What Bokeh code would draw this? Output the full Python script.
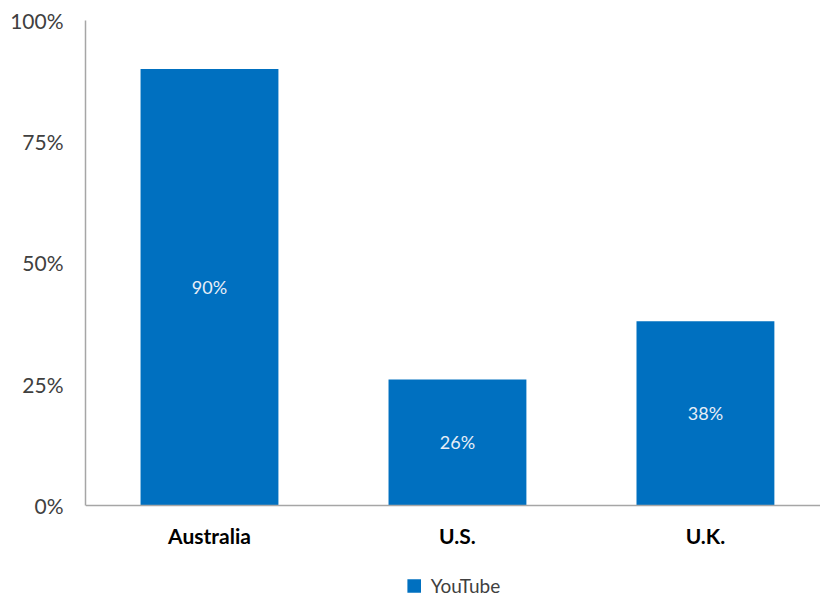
from bokeh.plotting import figure
from bokeh.models import (ColumnDataSource, Range1d, FixedTicker, Legend, LegendItem,
                          LabelSet, Span)
from bokeh.core.properties import value
from bokeh.embed import file_html
from bokeh.resources import INLINE

categories = ["Australia", "U.S.", "U.K."]
values = [90, 26, 38]
value_labels = ["90%", "26%", "38%"]
series_name = "YouTube"
y_ticks = [0, 25, 50, 75, 100]

xs = [i + 0.5 for i in range(len(categories))]
src = ColumnDataSource(dict(x=xs, top=values, mid=[v / 2 for v in values], lab=value_labels))
cat_src = ColumnDataSource(dict(x=xs, y=[0] * len(xs), name=categories))

p = figure(width=820, height=597, output_backend="svg", toolbar_location=None,
           x_range=Range1d(0, 2.964), y_range=Range1d(-18.97, 100),
           min_border_left=85, min_border_right=0, min_border_top=20, min_border_bottom=0)
p.outline_line_color = None
p.xgrid.grid_line_color = None
p.ygrid.grid_line_color = None
p.xaxis.visible = False

r = p.vbar(x="x", top="top", width=0.556, bottom=0, source=src, color="#0070C0", line_color=None)

p.add_layout(Span(location=0, dimension="width", line_color="#A6A6A6", line_width=1.5))

labels = LabelSet(x="x", y="mid", text="lab", source=src, text_color="#E8EEF7",
                  text_font=value("Lato"), text_font_size="18px", text_align="center",
                  text_baseline="middle")
p.add_layout(labels)

cat_labels = LabelSet(x="x", y="y", text="name", source=cat_src, text_color="#000000",
                      text_font=value("Lato"), text_font_style="bold", text_font_size="21px",
                      text_align="center", text_baseline="middle", y_offset=-30)
p.add_layout(cat_labels)

p.yaxis.ticker = FixedTicker(ticks=y_ticks)
p.yaxis.bounds = (0, 100)
p.yaxis.major_label_overrides = {t: f"{t}%" for t in y_ticks}
p.yaxis.major_tick_line_color = None
p.yaxis.major_tick_out = 0
p.yaxis.major_tick_in = 0
p.yaxis.minor_tick_line_color = None
p.yaxis.axis_line_color = "#A6A6A6"
p.yaxis.axis_line_width = 1.5
p.yaxis.major_label_text_font = "Lato"
p.yaxis.major_label_text_font_size = "21px"
p.yaxis.major_label_text_color = "#404040"
p.yaxis.major_label_standoff = 22

legend = Legend(items=[LegendItem(label=series_name, renderers=[r])], orientation="horizontal",
                location="bottom_center", label_text_font="Lato", label_text_font_size="19px",
                label_text_color="#404040", glyph_width=17, glyph_height=17, label_standoff=9,
                border_line_color=None, background_fill_alpha=0, margin=0, padding=0)
p.add_layout(legend, "center")

open("out.html", "w").write(file_html(p, INLINE))
